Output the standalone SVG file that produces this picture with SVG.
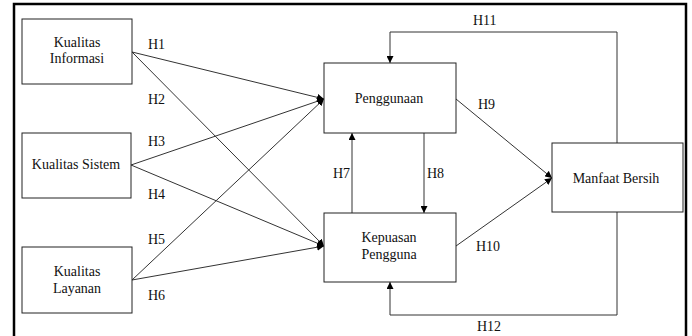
<svg xmlns="http://www.w3.org/2000/svg" width="692" height="336" viewBox="0 0 692 336">
<style>
.box{fill:#fff;stroke:#222;stroke-width:1}
.t{font-family:"Liberation Serif","Times New Roman",serif;font-size:14px;fill:#111;text-anchor:middle}
.l{font-family:"Liberation Serif","Times New Roman",serif;font-size:14px;fill:#111}
.c{fill:none;stroke:#333;stroke-width:1}
</style>
<defs>
<marker id="a" viewBox="0 0 10 10" refX="10" refY="5" markerWidth="7" markerHeight="7" markerUnits="userSpaceOnUse" orient="auto">
<path d="M0,0 L10,5 L0,10 z" fill="#000"/>
</marker>
</defs>
<rect x="0" y="0" width="692" height="336" fill="#fff"/>
<rect x="14" y="4" width="672" height="340" fill="none" stroke="#000" stroke-width="2.5"/>
<g id="connectors">
<line class="c" x1="132" y1="52" x2="324" y2="99" marker-end="url(#a)"/>
<line class="c" x1="132" y1="52" x2="324" y2="246" marker-end="url(#a)"/>
<line class="c" x1="131" y1="165" x2="324" y2="99" marker-end="url(#a)"/>
<line class="c" x1="131" y1="165" x2="324" y2="246" marker-end="url(#a)"/>
<line class="c" x1="132" y1="280" x2="324" y2="99" marker-end="url(#a)"/>
<line class="c" x1="132" y1="280" x2="324" y2="246" marker-end="url(#a)"/>
<line class="c" x1="352" y1="213" x2="352" y2="133" marker-end="url(#a)"/>
<line class="c" x1="424" y1="133" x2="424" y2="213" marker-end="url(#a)"/>
<line class="c" x1="456" y1="99" x2="552" y2="178" marker-end="url(#a)"/>
<line class="c" x1="456" y1="246" x2="552" y2="178" marker-end="url(#a)"/>
<polyline class="c" points="617,143 617,32 390,32 390,63" marker-end="url(#a)"/>
<polyline class="c" points="617,212 617,315 390,315 390,282" marker-end="url(#a)"/>
<text class="l" x="148" y="49">H1</text>
<text class="l" x="148" y="104">H2</text>
<text class="l" x="148" y="146">H3</text>
<text class="l" x="148" y="199">H4</text>
<text class="l" x="148" y="244">H5</text>
<text class="l" x="148" y="300">H6</text>
<text class="l" x="333" y="178">H7</text>
<text class="l" x="427" y="178">H8</text>
<text class="l" x="478" y="109">H9</text>
<text class="l" x="476" y="251">H10</text>
<text class="l" x="473" y="25">H11</text>
<text class="l" x="477" y="331">H12</text>
</g>
<g id="kualitas-informasi">
<rect class="box" x="22" y="19" width="110" height="65"/>
<text class="t" x="77" y="47">Kualitas</text>
<text class="t" x="77" y="63">Informasi</text>
</g>
<g id="kualitas-sistem">
<rect class="box" x="22" y="133" width="109" height="65"/>
<text class="t" x="76" y="169">Kualitas Sistem</text>
</g>
<g id="kualitas-layanan">
<rect class="box" x="22" y="247" width="110" height="66"/>
<text class="t" x="77" y="276">Kualitas</text>
<text class="t" x="77" y="293">Layanan</text>
</g>
<g id="penggunaan">
<rect class="box" x="324" y="63" width="132" height="70"/>
<text class="t" x="389" y="103">Penggunaan</text>
</g>
<g id="kepuasan-pengguna">
<rect class="box" x="324" y="213" width="132" height="69"/>
<text class="t" x="389" y="242">Kepuasan</text>
<text class="t" x="389" y="259">Pengguna</text>
</g>
<g id="manfaat-bersih">
<rect class="box" x="552" y="143" width="131" height="69"/>
<text class="t" x="616" y="183">Manfaat Bersih</text>
</g>
</svg>
